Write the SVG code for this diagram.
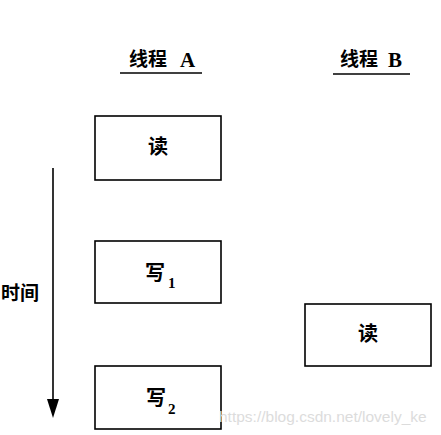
<svg xmlns="http://www.w3.org/2000/svg" width="441" height="435" viewBox="0 0 441 435">
<style>
.box{fill:#fff;stroke:#000;stroke-width:1.6}
.t{font-family:"Noto Sans CJK SC","Liberation Serif",serif;font-weight:bold;fill:#000}
.lab{font-size:20px;text-anchor:middle}
.sub{font-family:"Liberation Serif",serif;font-weight:bold;font-size:15px}
.hdr{font-size:19px}
.lat{font-family:"Liberation Serif",serif;font-weight:bold;font-size:21px}
.ul{stroke:#000;stroke-width:1.5}
</style>
<rect width="441" height="435" fill="#fff"/>
<g id="headerA">
<text class="t hdr" x="129" y="66">线程</text>
<text class="lat" x="180" y="67">A</text>
<line class="ul" x1="120" y1="73" x2="202" y2="73"/>
</g>
<g id="headerB">
<text class="t hdr" x="340" y="66">线程</text>
<text class="lat" x="388" y="67">B</text>
<line class="ul" x1="333" y1="74" x2="410" y2="74"/>
</g>
<g id="timeLabel">
<text class="t" x="1" y="300" font-size="19">时间</text>
</g>
<g id="connectors">
<line x1="53" y1="168" x2="53" y2="400" stroke="#000" stroke-width="1.6"/>
<path d="M47,399 L59,399 L53,418 Z" fill="#000"/>
</g>
<g id="readA">
<rect class="box" x="95" y="116" width="126" height="64"/>
<text class="t lab" x="158" y="154">读</text>
</g>
<g id="write1">
<rect class="box" x="95" y="241" width="126" height="62"/>
<text class="t lab" x="155" y="280">写</text>
<text class="sub" x="168" y="288">1</text>
</g>
<g id="write2">
<rect class="box" x="95" y="366" width="126" height="63"/>
<text class="t lab" x="156" y="405">写</text>
<text class="sub" x="168" y="414">2</text>
</g>
<g id="readB">
<rect class="box" x="305" y="304" width="126" height="62"/>
<text class="t lab" x="368" y="341">读</text>
</g>
<text x="219" y="422" font-family="Liberation Sans,sans-serif" font-size="15.5" fill="#dcdcdc">https://blog.csdn.net/lovely_ke</text>
</svg>
